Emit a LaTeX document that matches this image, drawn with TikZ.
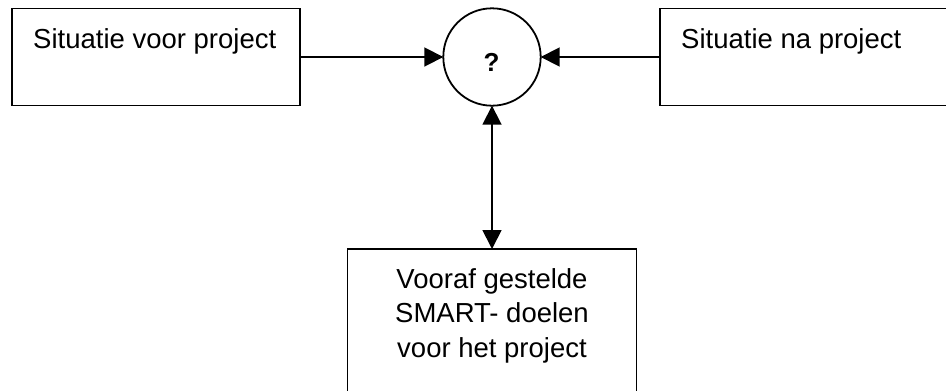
\documentclass[tikz,border=0pt]{standalone}
\usepackage{fontspec}
\setmainfont{Liberation Sans}
\usetikzlibrary{arrows.meta}
\begin{document}
\begin{tikzpicture}[x=1pt,y=-1pt,
  box/.style={draw, line width=1.8pt, rectangle, inner sep=0pt, outer sep=0pt},
  circ/.style={draw, line width=1.8pt, circle, inner sep=0pt, outer sep=0pt, minimum size=97.4pt},
  txt/.style={inner sep=0pt, font=\fontsize{27.5}{34.5}\selectfont},
  conn/.style={line width=1.8pt, -{Triangle[length=19pt,width=19pt]}},
  dconn/.style={line width=1.8pt, {Triangle[length=19pt,width=19pt]}-{Triangle[length=19pt,width=19pt]}}]
\clip (0,0) rectangle (946,391);
\node[box, minimum width=288pt, minimum height=97pt] (voor) at (156,57) {};
\node[box, minimum width=288pt, minimum height=97pt] (na) at (804,57) {};
\node[box, minimum width=289pt, minimum height=144pt] (doel) at (492,321) {};
\node[circ] (q) at (492,57) {};
\node[txt, font=\fontsize{26}{30}\selectfont\bfseries] (qm) at (491.5,62) {?};
\node[txt, anchor=base west] (tvoor) at (33,48) {Situatie voor project};
\node[txt, anchor=base west] (tna) at (681,48) {Situatie na project};
\node[txt, anchor=base, align=center] (tdoel) at (492,357) {Vooraf gestelde\\SMART- doelen\\voor het project};
\draw[conn] (voor) -- (q);
\draw[conn] (na) -- (q);
\draw[dconn] (q) -- (doel);
\end{tikzpicture}
\end{document}
